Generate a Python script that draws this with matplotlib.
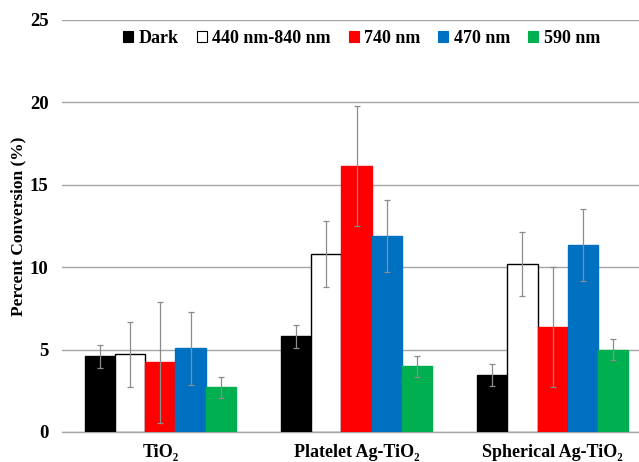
import matplotlib.pyplot as plt
from matplotlib.patches import Patch
import numpy as np

plt.rcParams['font.family'] = ['Liberation Serif', 'DejaVu Serif']
plt.rcParams['font.weight'] = 'bold'

categories = ["TiO\u2082", "Platelet Ag-TiO\u2082", "Spherical Ag-TiO\u2082"]
series = ["Dark", "440 nm-840 nm", "740 nm", "470 nm", "590 nm"]
values = [
    [4.6, 5.8, 3.45],    # Dark
    [4.7, 10.8, 10.2],   # 440-840
    [4.23, 16.15, 6.38], # 740
    [5.07, 11.9, 11.35], # 470
    [2.7, 3.98, 5.0],    # 590
]
errors = [
    [0.7, 0.68, 0.67],
    [1.95, 1.98, 1.96],
    [3.68, 3.65, 3.64],
    [2.2, 2.2, 2.2],
    [0.65, 0.64, 0.62],
]
colors = ["#000000", "#FFFFFF", "#FF0000", "#0070C0", "#00B050"]
edges = ["#000000", "#000000", "#FF0000", "#0070C0", "#00B050"]

fig = plt.figure(figsize=(6.39, 4.62), dpi=100)
ax = fig.add_axes([0.0975, 0.065, 0.9025, 0.892])

x = np.arange(len(categories))
w = 0.154
for i in range(len(series)):
    pos = x + (i - 2) * w
    ax.bar(pos, values[i], w, color=colors[i], edgecolor=edges[i],
           linewidth=1.0, zorder=3)
    ax.errorbar(pos, values[i], yerr=errors[i], fmt='none', ecolor='#8c8c8c',
                elinewidth=0.9, capsize=2.5, capthick=0.9, zorder=4)

ax.set_ylim(0, 25)
ax.set_xlim(-0.5, 2.44)
ax.set_yticks([0, 5, 10, 15, 20, 25])
ax.yaxis.grid(True, color='#a6a6a6', linewidth=1.0, zorder=0)
ax.set_axisbelow(True)
for s in ['top', 'right', 'left']:
    ax.spines[s].set_visible(False)
ax.spines['bottom'].set_color('#a6a6a6')
ax.spines['bottom'].set_linewidth(1.0)
ax.tick_params(axis='y', length=0, labelsize=13.5, pad=10)
ax.tick_params(axis='x', length=0, labelsize=13, pad=9)
ax.set_xticks(x)
ax.set_xticklabels(categories, fontweight='bold')
for t in ax.get_yticklabels():
    t.set_fontweight('bold')
ax.set_ylabel("Percent Conversion (%)", fontsize=12.5, fontweight='bold', labelpad=2)

handles = [Patch(facecolor=colors[i], edgecolor=edges[i], linewidth=0.8) for i in range(len(series))]
ax.legend(handles, series, loc='center', bbox_to_anchor=(0.519, 0.955), ncol=5,
          frameon=False, handlelength=0.55, handleheight=0.55, handletextpad=0.3,
          columnspacing=1.0, prop={'weight': 'bold', 'size': 13})

plt.savefig("out.png", dpi=100)
